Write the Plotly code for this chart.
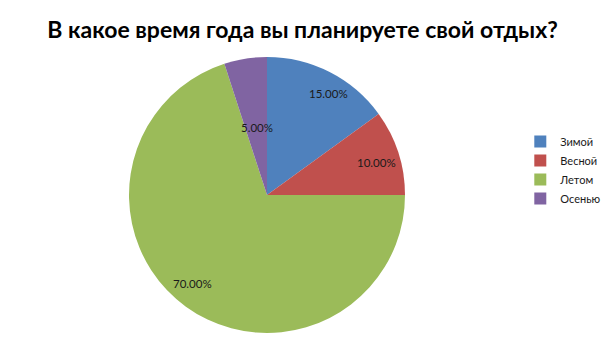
import math
import plotly.graph_objects as go

labels = ["Зимой", "Весной", "Летом", "Осенью"]
values = [15, 10, 70, 5]
text_labels = ["15.00%", "10.00%", "70.00%", "5.00%"]
colors = ["#4F81BD", "#C0504D", "#9BBB59", "#8064A2"]

# label placement (fraction of radius, angular nudge in degrees)
label_radius = [0.861, 0.827, 0.838, 0.498]
label_nudge = [3.9, 1.7, 4.4, 0.6]

W, H = 605, 340
dom_x = [129 / W, 405 / W]
dom_y = [7 / H, 283 / H]

fig = go.Figure(go.Pie(
    labels=labels, values=values, sort=False, direction="clockwise", rotation=0,
    marker=dict(colors=colors, line=dict(width=0)),
    textinfo="none", hoverinfo="label+percent",
    domain=dict(x=dom_x, y=dom_y),
))

# place data labels from cumulative fractions
cx = (dom_x[0] + dom_x[1]) / 2
cy = (dom_y[0] + dom_y[1]) / 2
rx = (dom_x[1] - dom_x[0]) / 2
ry = (dom_y[1] - dom_y[0]) / 2
total = sum(values)
cum = 0
annotations = []
for v, t, rf, nd in zip(values, text_labels, label_radius, label_nudge):
    mid = (cum + v / 2) / total * 2 * math.pi + math.radians(nd)
    cum += v
    x = cx + rf * rx * math.sin(mid)
    y = cy + rf * ry * math.cos(mid)
    annotations.append(dict(x=x, y=y, xref="paper", yref="paper", text=t, showarrow=False,
                            xanchor="center", yanchor="middle",
                            font=dict(family="Lato, Carlito, sans-serif", size=11.5, color="#1a1a1a")))

fig.update_layout(
    width=W, height=H, margin=dict(l=0, r=0, t=0, b=0, autoexpand=False),
    paper_bgcolor="white", plot_bgcolor="white",
    title=dict(text="<b>В какое время года вы планируете свой отдых?</b>", x=0.5, xanchor="center",
               y=1 - 30 / H, yanchor="middle",
               font=dict(family="Lato, sans-serif", size=23, color="#000000")),
    legend=dict(x=0.86, y=0.5, xanchor="left", yanchor="middle",
                font=dict(family="Lato, sans-serif", size=11, color="#1a1a1a"),
                itemwidth=30, tracegroupgap=0, bgcolor="rgba(0,0,0,0)"),
    annotations=annotations,
)

fig.write_html("out.html")
